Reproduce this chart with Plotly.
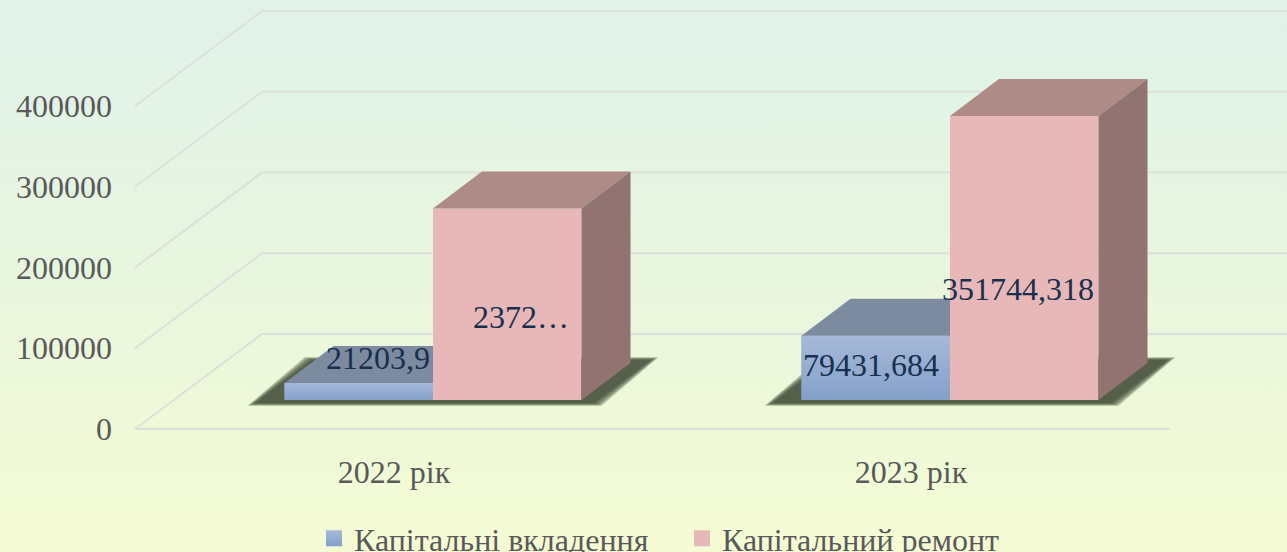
import base64
import plotly.graph_objects as go

# ---- data ----
categories = ["2022 рік", "2023 рік"]
capital_investment = [21203.9, 79431.684]
capital_repair = [237200, 351744.318]
series_names = ["Капітальні вкладення", "Капітальний ремонт"]
y_ticks = [0, 100000, 200000, 300000, 400000]
investment_labels = ["21203,9", "79431,684"]
repair_labels = ["2372…", "351744,318"]

# ---- layout constants ----
W, H = 1287, 552
PX_PER_VALUE = 0.0008075
ZERO_PX = 429
CAT0_PX = 433
PX_PER_CAT = 517
BAR_W_PX = 148.5


def ux(px):      # horizontal pixels -> category units
    return px / PX_PER_CAT


def uy(px):      # vertical pixels -> value units
    return px / PX_PER_VALUE


FLOOR = uy(29)
DX, DY = ux(49), uy(37)
BAR_W = ux(BAR_W_PX)
GRID_DX, GRID_DY = ux(127), uy(95)
X_LEFT = ux(135 - CAT0_PX)
X_FRONT_RIGHT = ux(1170 - CAT0_PX)
X_RIGHT = ux(W - CAT0_PX)
TICK_SHIFT = ux(-39)

BLUE_TOP, BLUE_BOTTOM = "#a6b9d9", "#84a0c9"
BLUE_ROOF = "#7d8ba1"
PINK, PINK_ROOF, PINK_SIDE = "#e8b7b7", "#ae8b86", "#917372"
GRID = "#dbe0da"
TICK_COLOR = "#595959"
LABEL_COLOR = "#17304f"
FONT = "Liberation Serif"

svg = (
    f'<svg xmlns="http://www.w3.org/2000/svg" width="{W}" height="{H}" preserveAspectRatio="none">'
    '<defs><linearGradient id="g" x1="0" y1="0" x2="0" y2="1">'
    '<stop offset="0" stop-color="#e0f2ea"/><stop offset="0.5" stop-color="#e8f6de"/>'
    '<stop offset="1" stop-color="#f5fcd4"/></linearGradient></defs>'
    f'<rect width="{W}" height="{H}" fill="url(#g)"/></svg>'
)
bg = "data:image/svg+xml;base64," + base64.b64encode(svg.encode()).decode()

fig = go.Figure()

# front faces
fig.add_bar(x=[0, 1], y=capital_investment, base=FLOOR, name=series_names[0],
            marker=dict(color=BLUE_BOTTOM, line_width=0), showlegend=False, hoverinfo="y")
fig.add_bar(x=[0, 1], y=capital_repair, base=FLOOR, name=series_names[1],
            marker=dict(color=PINK, line_width=0), showlegend=False, hoverinfo="y")


def poly(xs, ys, color):
    fig.add_scatter(x=xs, y=ys, mode="lines", fill="toself", fillcolor=color,
                    line=dict(width=0), showlegend=False, hoverinfo="skip")


for i in range(2):
    # investment: gradient front and roof (the right part is hidden by the repair bar)
    top = capital_investment[i] + FLOOR
    l, r = i - BAR_W, i
    fig.add_scatter(x=[l, r, r, l, l], y=[FLOOR, FLOOR, top, top, FLOOR], mode="lines",
                    fill="toself", line=dict(width=0), showlegend=False, hoverinfo="skip",
                    fillgradient=dict(type="vertical",
                                      colorscale=[[0, BLUE_BOTTOM], [1, BLUE_TOP]]))
    poly([l, r, r, l + DX, l], [top, top, top + DY, top + DY, top], BLUE_ROOF)

    # repair: roof and side
    top = capital_repair[i] + FLOOR
    l, r = i, i + BAR_W
    poly([l, r, r + DX, l + DX, l], [top, top, top + DY, top + DY, top], PINK_ROOF)
    poly([r, r + DX, r + DX, r, r], [FLOOR, FLOOR + DY, top + DY, top, FLOOR], PINK_SIDE)

# value labels
label_x = [ux(-55), ux(88), 1 + ux(-79), 1 + ux(68)]
label_y = [capital_investment[0] + FLOOR + uy(22),
           capital_repair[0] + FLOOR + uy(-112),
           capital_investment[1] + FLOOR + uy(-32),
           capital_repair[1] + FLOOR + uy(-176)]
label_text = [investment_labels[0], repair_labels[0], investment_labels[1], repair_labels[1]]
fig.add_scatter(x=label_x, y=label_y, text=label_text, mode="text", textposition="middle center",
                textfont=dict(family=FONT, size=32, color=LABEL_COLOR),
                showlegend=False, hoverinfo="skip", cliponaxis=False)

# legend entries
fig.add_scatter(x=[None], y=[None], mode="markers", name=series_names[0],
                marker=dict(symbol="square", size=16, color=BLUE_TOP,
                            gradient=dict(type="vertical", color=BLUE_BOTTOM)))
fig.add_scatter(x=[None], y=[None], mode="markers", name=series_names[1],
                marker=dict(symbol="square", size=16, color=PINK))

# grid, below all traces
shapes = []
for t in y_ticks:
    shapes.append(dict(type="path", layer="below", line=dict(color=GRID, width=2),
                       path=f"M{X_LEFT},{t} L{X_LEFT + GRID_DX},{t + GRID_DY} L{X_RIGHT},{t + GRID_DY}"))
shapes.append(dict(type="line", layer="below", line=dict(color=GRID, width=2),
                   x0=X_LEFT, x1=X_FRONT_RIGHT, y0=0, y1=0))

# soft floor shadow: stacked translucent parallelograms, below all traces
for i in range(2):
    for k in range(6):
        g = (5 - k) * 1.6
        pad_x, pad_y = ux(g), uy(g * 0.35)
        lx = i - BAR_W - ux(29)
        rx = i + BAR_W + ux(12)
        by = FLOOR - uy(3)
        ty = FLOOR + uy(40)
        shapes.append(dict(type="path", layer="below", line_width=0,
                           fillcolor="rgba(62,72,52,0.28)",
                           path=(f"M{lx - pad_x},{by - pad_y} L{rx + pad_x},{by - pad_y} "
                                 f"L{rx + ux(57) + pad_x},{ty + pad_y} "
                                 f"L{lx + ux(57) - pad_x},{ty + pad_y} Z")))

fig.update_layout(
    width=W, height=H, margin=dict(l=0, r=0, t=0, b=0, autoexpand=False),
    paper_bgcolor="rgba(0,0,0,0)", plot_bgcolor="rgba(0,0,0,0)",
    barmode="group", bargap=1 - 2 * BAR_W, bargroupgap=0,
    shapes=shapes,
    images=[dict(source=bg, xref="paper", yref="paper", x=0, y=1, sizex=1, sizey=1,
                 sizing="stretch", xanchor="left", yanchor="top", layer="below")],
    font=dict(family=FONT, size=32, color=TICK_COLOR),
    legend=dict(orientation="h", x=(323 - 9) / W, xanchor="left", y=1 - 511 / H, yanchor="top",
                bgcolor="rgba(0,0,0,0)", font=dict(family=FONT, size=32, color=TICK_COLOR),
                entrywidthmode="pixels", entrywidth=323, itemsizing="trace", itemwidth=30),
    xaxis=dict(range=[ux(-CAT0_PX), ux(W - CAT0_PX)], domain=[0, 1], anchor="free",
               position=1 - 450 / H, tickmode="array",
               tickvals=[i + TICK_SHIFT for i in range(2)], ticktext=categories,
               showgrid=False, zeroline=False, showline=False, ticks="", fixedrange=True,
               tickfont=dict(family=FONT, size=32, color=TICK_COLOR)),
    yaxis=dict(range=[-uy(H - ZERO_PX), uy(ZERO_PX)], domain=[0, 1], anchor="free",
               position=112 / W, tickmode="array", tickvals=y_ticks,
               ticktext=[str(t) for t in y_ticks],
               showgrid=False, zeroline=False, showline=False, ticks="", fixedrange=True,
               tickfont=dict(family=FONT, size=32, color=TICK_COLOR)),
    hovermode="closest",
)

fig.write_html("out.html", config=dict(displayModeBar=False),
               post_script="document.body.style.margin='0';document.body.style.overflow='hidden';")
